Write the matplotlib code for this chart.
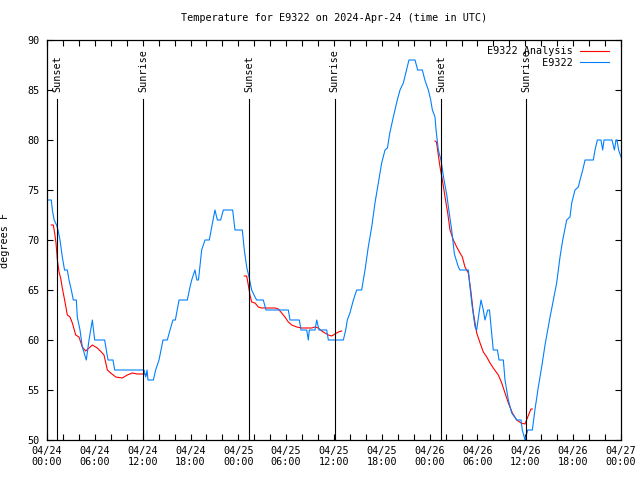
import numpy as np
import matplotlib
matplotlib.use('Agg')
import matplotlib.pyplot as plt

# hours since 2024-04-24 00:00 UTC, temperature in degrees F
obs_hours = [0.13, 0.54, 0.67, 0.9, 1.2, 1.38, 1.63, 1.92, 2.2, 2.55, 2.76, 3.05, 3.3, 3.68,
             3.8, 4.14, 4.43, 4.93, 5.27, 5.69, 5.98, 7.23, 7.65, 8.28, 8.49, 12.17, 12.38,
             12.55, 12.67, 13.34, 13.63, 14.05, 14.55, 15.09, 15.43, 15.8, 16.1, 16.56, 17.6,
             17.94, 18.15, 18.56, 18.8, 19.0, 19.4, 19.82, 20.36, 20.66, 21.07, 21.37, 21.78,
             22.12, 23.29, 23.58, 24.5, 24.75, 25.05, 25.34, 25.67, 26.09, 26.3, 27.13, 27.47,
             30.27, 30.48, 31.65, 31.86, 32.58, 32.78, 32.9, 33.62, 33.83, 34.12, 35.08, 35.29,
             37.17, 37.47, 37.67, 38.0, 38.43, 38.85, 39.47, 39.89, 40.3, 40.73, 41.14, 41.56,
             41.98, 42.4, 42.7, 43.0, 43.44, 43.94, 44.28, 44.7, 45.0, 45.4, 46.16, 46.5, 47.08,
             47.4, 47.83, 48.13, 48.34, 48.67, 48.8, 49.09, 49.42, 49.8, 50.15, 50.4, 50.76,
             51.1, 51.6, 51.8, 52.85, 53.06, 53.28, 53.69, 53.9, 54.19, 54.44, 54.73, 54.94,
             55.28, 55.5, 55.98, 56.5, 56.7, 57.24, 57.45, 57.87, 58.29, 58.92, 59.46, 59.62,
             59.96, 60.3, 60.88, 61.2, 61.63, 62.05, 62.47, 63.1, 63.51, 63.93, 64.35, 64.69,
             65.19, 65.6, 65.82, 66.23, 66.65, 66.86, 67.2, 67.49, 68.53, 68.74, 69.03, 69.49,
             69.7, 69.87, 70.87, 71.17, 71.38, 71.5, 71.7, 72.0]
obs_temps = [74, 74, 73, 72, 71.5, 71, 70, 68.3, 67, 67, 66, 65, 64, 64,
             62.3, 61, 59.3, 58, 60, 62, 60, 60, 58, 58, 57, 57, 56.3,
             57, 56, 56, 57, 58, 60, 60, 61, 62, 62, 64, 64,
             65.3, 66, 67, 66, 66, 69, 70, 70, 71.3, 73, 72, 72,
             73, 73, 71, 71, 69, 67.3, 66.3, 65, 64.3, 64, 64, 63,
             63, 62, 62, 61, 61, 60, 61, 61, 62, 61, 61, 60,
             60, 61, 62, 62.7, 64, 65, 65, 67, 69.3, 71.3, 73.7, 75.7,
             77.7, 79, 79.2, 80.7, 82.3, 84, 85, 85.7, 86.7, 88, 88, 87, 87,
             86, 85, 84, 83, 82.3, 81, 79, 78, 76, 74.5, 73, 71,
             68.6, 67.3, 67, 67, 65.3, 63.7, 61.3, 61, 62.7, 64, 63, 62,
             63, 63, 59, 59, 58, 58, 56, 54, 52.7, 52, 52, 51,
             50, 51, 51, 53, 55.3, 57.3, 59.5, 62.3, 64, 65.7, 68.3, 70,
             72, 72.3, 73.7, 75, 75.3, 76, 77, 78, 78, 79, 80, 80,
             79, 80, 80, 79, 80, 80, 79, 78.3]

# analysis runs (three separate pieces)
ana1_hours = [0.54, 0.79, 0.96, 1.13, 1.3, 1.51, 1.71, 1.92, 2.21, 2.55, 2.88, 3.18, 3.6, 4.01,
              4.43, 4.85, 5.27, 5.69, 6.31, 6.81, 7.15, 7.57, 7.99, 8.62, 9.45, 10.07, 10.7,
              11.33, 12.17, 12.58]
ana1_temps = [71.5, 71.5, 70.7, 69.7, 68, 66.8, 66.2, 65.2, 64, 62.5, 62.3, 61.7, 60.5, 60.3,
              59.3, 58.9, 59.2, 59.5, 59.2, 58.8, 58.5, 57, 56.7, 56.3, 56.2, 56.5, 56.7,
              56.6, 56.6, 56.5]
ana2_hours = [24.75, 25.05, 25.25, 25.46, 25.67, 26.09, 26.51, 26.9, 27.55, 28.18, 28.6, 29.01,
              29.44, 29.85, 30.27, 30.69, 31.32, 31.95, 32.58, 33.2, 33.62, 34.03, 34.46,
              34.87, 35.29, 35.71, 36.13, 36.54, 36.96]
ana2_temps = [66.4, 66.4, 65.5, 64.5, 63.8, 63.7, 63.3, 63.2, 63.2, 63.2, 63.2, 63.1,
              62.7, 62.3, 61.8, 61.5, 61.3, 61.2, 61.2, 61.2, 61.3, 61.2, 60.9,
              60.7, 60.5, 60.4, 60.6, 60.8, 60.9]
ana3_hours = [48.67, 48.85, 49.3, 49.59, 49.93, 50.26, 50.55, 50.97, 51.39, 51.8, 52.1, 52.43,
              52.85, 53.15, 53.48, 53.9, 54.32, 54.73, 55.16, 55.57, 55.98, 56.61, 57.04,
              57.45, 57.87, 58.37, 58.92, 59.46, 59.96, 60.3, 60.71, 60.88]
ana3_temps = [79.9, 79.8, 77.3, 76, 74.3, 72.7, 71, 70, 69.3, 68.7, 68.3, 67.3,
              66.7, 65, 62.7, 60.7, 59.7, 58.8, 58.3, 57.7, 57.2, 56.5, 55.7,
              54.7, 53.7, 52.7, 52, 51.7, 51.6, 52.3, 53.1, 53.1]

sun_hours = [1.3, 12.08, 25.34, 36.1, 49.42, 60.13]
sun_labels = ['Sunset', 'Sunrise', 'Sunset', 'Sunrise', 'Sunset', 'Sunrise']
sun_line_top = 84.1

tick_hours = list(range(0, 73, 6))
tick_labels = ['04/24\n00:00', '04/24\n06:00', '04/24\n12:00', '04/24\n18:00',
               '04/25\n00:00', '04/25\n06:00', '04/25\n12:00', '04/25\n18:00',
               '04/26\n00:00', '04/26\n06:00', '04/26\n12:00', '04/26\n18:00',
               '04/27\n00:00']

RED = '#ff0000'
BLUE = '#0080ff'
FONT = 'DejaVu Sans Mono'
FS = 7.3

plt.rcParams['font.family'] = FONT
plt.rcParams['font.size'] = FS

fig = plt.figure(figsize=(6.4, 4.8), dpi=100)
ax = fig.add_axes([47 / 640, 40 / 480, 574 / 640, 400 / 480])

# analysis first so observations draw on top
for i, (hh, tt) in enumerate([(ana1_hours, ana1_temps), (ana2_hours, ana2_temps),
                              (ana3_hours, ana3_temps)]):
    ax.plot(hh, tt, color=RED, lw=0.8, label='E9322 Analysis' if i == 0 else None)
# monospace font, so leading spaces right-justify the short label like gnuplot
ax.plot(obs_hours, obs_temps, color=BLUE, lw=0.8, label='         E9322')

# sunrise / sunset markers
for h, lab in zip(sun_hours, sun_labels):
    ax.plot([h, h], [50, sun_line_top], color='black', lw=0.8)
    ax.text(h, sun_line_top + 0.7, lab, rotation=90, ha='center', va='bottom',
            fontsize=FS)

ax.set_xlim(0, 72)
ax.set_ylim(50, 90)
ax.set_xticks(tick_hours)
ax.set_xticklabels(tick_labels, linespacing=1.15)
ax.set_xticks(np.arange(0, 73, 2), minor=True)
ax.set_yticks(np.arange(50, 91, 5))
ax.tick_params(which='both', direction='in', top=True, right=True, length=4, width=0.8)
ax.tick_params(axis='x', pad=4)
ax.tick_params(axis='y', pad=5.5)
for s in ax.spines.values():
    s.set_linewidth(0.9)

ax.set_ylabel('degrees F')
ax.yaxis.set_label_coords(-(47 - 10) / 574, 0.5)
ax.set_title('Temperature for E9322 on 2024-Apr-24 (time in UTC)', pad=14, fontsize=FS)

ax.legend(loc='upper right', bbox_to_anchor=(1 - 6 / 574, 1), frameon=False,
          markerfirst=False, handlelength=2.9, handletextpad=0.7, labelspacing=0.15,
          borderaxespad=0.3, borderpad=0.3)

fig.savefig('out.png', dpi=100)
